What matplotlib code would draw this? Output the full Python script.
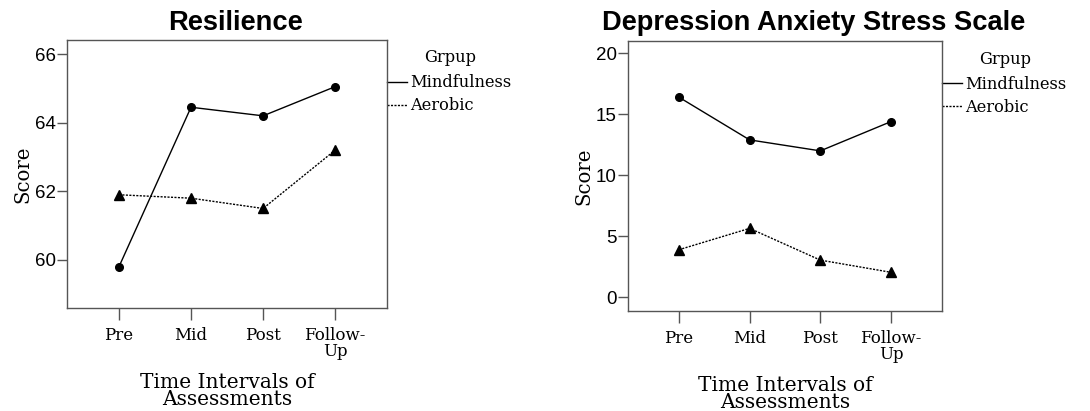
import numpy as np
import matplotlib
matplotlib.use('Agg')
import matplotlib.pyplot as plt
from matplotlib.lines import Line2D

time_labels = ['Pre', 'Mid', 'Post', 'Follow-\nUp']
group_names = ['Mindfulness', 'Aerobic']

resilience_mind = [59.8, 64.45, 64.2, 65.05]
resilience_aero = [61.9, 61.8, 61.5, 63.2]

dass_mind = [16.4, 12.9, 12.0, 14.4]
dass_aero = [3.9, 5.65, 3.05, 2.05]

serif = 'DejaVu Serif'
sans = 'Liberation Sans'
spine_col = '#555555'

fig = plt.figure(figsize=(10.9, 4.11), dpi=100)

panels = [
    dict(rect=[0.0615, 0.2506, 0.2936, 0.6521], title='Resilience', tx=235,
         mind=resilience_mind, aero=resilience_aero, ylim=(58.6, 66.41),
         yticks=[60, 62, 64, 66]),
    dict(rect=[0.5761, 0.2433, 0.2881, 0.6569], title='Depression Anxiety Stress Scale', tx=814,
         mind=dass_mind, aero=dass_aero, ylim=(-1.12, 21.0),
         yticks=[0, 5, 10, 15, 20]),
]

for p in panels:
    ax = fig.add_axes(p['rect'])
    idx = np.arange(len(time_labels))
    ax.plot(idx, p['mind'], color='black', linestyle='solid', linewidth=1.0,
            marker='o', markersize=5.5)
    ax.plot(idx, p['aero'], color='black', linestyle=(0, (1.5, 1)), linewidth=1.0,
            marker='^', markersize=7.5)
    ax.set_xlim(-0.72, 3.72)
    ax.set_ylim(*p['ylim'])
    ax.set_xticks(idx)
    ax.set_xticklabels(time_labels, fontfamily=serif, fontsize=12, linespacing=0.95)
    ax.set_yticks(p['yticks'])
    ax.set_yticklabels([str(t) for t in p['yticks']], fontfamily=sans, fontsize=13.5)
    ax.tick_params(axis='y', direction='out', length=7, width=1, color=spine_col, pad=1)
    ax.tick_params(axis='x', direction='out', length=8.5, width=1, color=spine_col, pad=5)
    ax.tick_params(top=False, right=False)
    for s in ax.spines.values():
        s.set_color(spine_col)
        s.set_linewidth(1.0)
    ax.set_ylabel('Score', fontfamily=serif, fontsize=14.2, labelpad=2)
    ax.set_xlabel('Time Intervals of\nAssessments', fontfamily=serif, fontsize=14.5,
                  linespacing=0.88, labelpad=9)
    fig.text(p['tx'] / 1090, 0.944, p['title'], ha='center', va='center',
             fontfamily=sans, fontweight='bold', fontsize=19.6)

    # legend drawn beside the right spine
    w = 20 / (p['rect'][2] * 1090)
    h = p['rect'][3] * 411
    ax.add_line(Line2D([1.0, 1.0 + w], [1 - 42 / h, 1 - 42 / h], transform=ax.transAxes,
                       color='black', linewidth=1.0, clip_on=False))
    ax.add_line(Line2D([1.0, 1.0 + w], [1 - 65 / h, 1 - 65 / h], transform=ax.transAxes,
                       color='black', linewidth=1.0, linestyle=(0, (1.5, 1)), clip_on=False))
    ax.text(1.0 + w + 3 / (p['rect'][2] * 1090), 1 - 43 / h, group_names[0], transform=ax.transAxes,
            ha='left', va='center', fontfamily=serif, fontsize=11.7)
    ax.text(1.0 + w + 3 / (p['rect'][2] * 1090), 1 - 66 / h, group_names[1], transform=ax.transAxes,
            ha='left', va='center', fontfamily=serif, fontsize=11.7)
    ax.text(1.0 + 63 / (p['rect'][2] * 1090), 1 - 18 / h, 'Grpup', transform=ax.transAxes,
            ha='center', va='center', fontfamily=serif, fontsize=11.7)

fig.savefig('out.png', dpi=100)
